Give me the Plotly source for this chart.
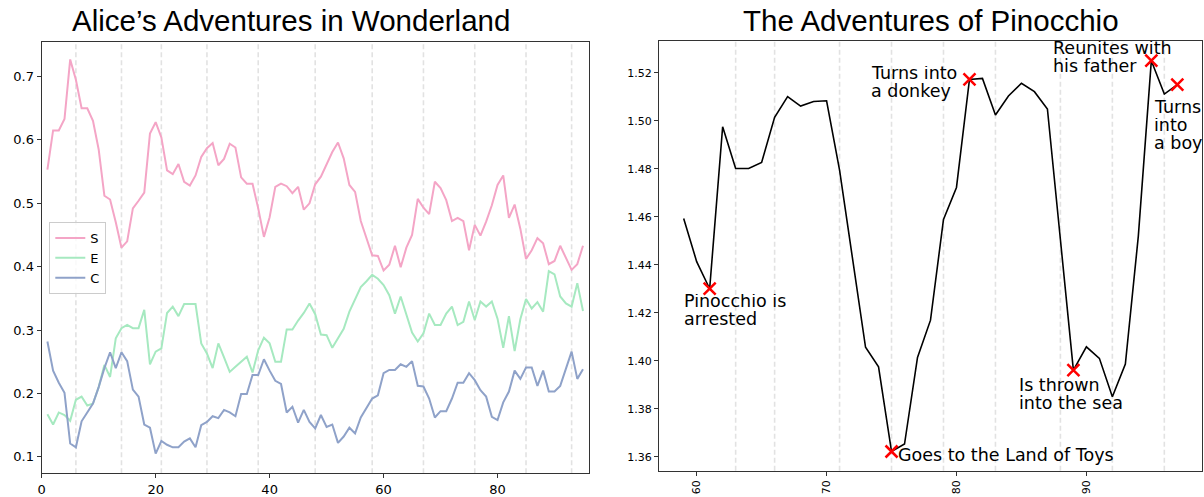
import plotly.graph_objects as go

# ---------------- data ----------------
alice_x = list(range(1, 96))
S = [0.553, 0.615, 0.615, 0.633, 0.727, 0.695, 0.650, 0.650, 0.630, 0.585,
     0.512, 0.506, 0.470, 0.430, 0.440, 0.492, 0.504, 0.517, 0.610, 0.628,
     0.604, 0.552, 0.546, 0.562, 0.534, 0.528, 0.544, 0.573, 0.587, 0.595,
     0.560, 0.570, 0.594, 0.588, 0.541, 0.531, 0.531, 0.492, 0.447, 0.478,
     0.526, 0.531, 0.527, 0.516, 0.526, 0.490, 0.500, 0.530, 0.542, 0.563,
     0.581, 0.596, 0.571, 0.529, 0.518, 0.472, 0.445, 0.418, 0.417, 0.394,
     0.403, 0.433, 0.399, 0.430, 0.450, 0.507, 0.493, 0.483, 0.534, 0.524,
     0.505, 0.472, 0.477, 0.472, 0.426, 0.466, 0.449, 0.471, 0.497, 0.529,
     0.544, 0.477, 0.498, 0.460, 0.412, 0.426, 0.445, 0.437, 0.404, 0.409,
     0.433, 0.414, 0.395, 0.404, 0.433]
E = [0.167, 0.151, 0.170, 0.166, 0.157, 0.190, 0.195, 0.181, 0.184, 0.210,
     0.245, 0.226, 0.287, 0.303, 0.308, 0.303, 0.303, 0.332, 0.246, 0.266,
     0.271, 0.327, 0.337, 0.322, 0.341, 0.341, 0.341, 0.279, 0.263, 0.240,
     0.279, 0.257, 0.234, 0.242, 0.250, 0.258, 0.233, 0.268, 0.288, 0.279,
     0.250, 0.250, 0.301, 0.301, 0.315, 0.327, 0.342, 0.325, 0.293, 0.292,
     0.272, 0.287, 0.302, 0.329, 0.350, 0.368, 0.377, 0.387, 0.381, 0.371,
     0.355, 0.326, 0.353, 0.326, 0.296, 0.282, 0.295, 0.326, 0.308, 0.308,
     0.326, 0.337, 0.308, 0.313, 0.345, 0.316, 0.345, 0.337, 0.345, 0.318,
     0.272, 0.322, 0.267, 0.317, 0.349, 0.334, 0.344, 0.329, 0.393, 0.388,
     0.353, 0.342, 0.337, 0.374, 0.330]
C = [0.282, 0.236, 0.217, 0.201, 0.121, 0.115, 0.156, 0.169, 0.184, 0.210,
     0.240, 0.265, 0.240, 0.265, 0.251, 0.206, 0.195, 0.151, 0.146, 0.105,
     0.125, 0.119, 0.115, 0.115, 0.124, 0.129, 0.115, 0.150, 0.155, 0.164,
     0.161, 0.174, 0.170, 0.164, 0.199, 0.199, 0.229, 0.229, 0.254, 0.236,
     0.220, 0.215, 0.170, 0.179, 0.154, 0.174, 0.155, 0.145, 0.166, 0.147,
     0.151, 0.122, 0.132, 0.146, 0.137, 0.162, 0.177, 0.192, 0.197, 0.232,
     0.237, 0.237, 0.246, 0.242, 0.251, 0.212, 0.211, 0.192, 0.162, 0.172,
     0.172, 0.192, 0.217, 0.217, 0.232, 0.221, 0.205, 0.195, 0.163, 0.158,
     0.186, 0.203, 0.236, 0.223, 0.241, 0.241, 0.212, 0.236, 0.203, 0.203,
     0.212, 0.239, 0.266, 0.223, 0.238]
alice_chapters = [6, 14, 21, 29, 38, 48, 58, 67, 76, 85, 93]
alice_xticks = [0, 20, 40, 60, 80]
alice_yticks = [0.1, 0.2, 0.3, 0.4, 0.5, 0.6, 0.7]

pin_x = list(range(59, 98))
pin_y = [1.4593, 1.4413, 1.4300, 1.4975, 1.4801, 1.4801, 1.4826, 1.5014, 1.5100, 1.5061,
         1.5080, 1.5083, 1.4794, 1.4420, 1.4056, 1.3975, 1.3622, 1.3653, 1.4014, 1.4169,
         1.4589, 1.4722, 1.5172, 1.5176, 1.5024, 1.5103, 1.5156, 1.5121, 1.5049, 1.4505,
         1.3961, 1.4058, 1.4010, 1.3850, 1.3986, 1.4520, 1.5250, 1.5111, 1.5150]
pin_chapters = [63, 66, 71, 75, 79, 83, 88, 92, 96]
pin_xticks = [60, 70, 80, 90]
pin_yticks = [1.36, 1.38, 1.40, 1.42, 1.44, 1.46, 1.48, 1.50, 1.52]
event_x = [61, 75, 81, 89, 95, 97]
event_labels = [["Pinocchio is", "arrested"],
                ["Goes to the Land of Toys"],
                ["Turns into", "a donkey"],
                ["Is thrown", "into the sea"],
                ["Reunites with", "his father"],
                ["Turns", "into", "a boy"]]
# label anchor (left edge x, first-line y) in data units
label_pos = [(59.0, 1.4247), (75.5, 1.3606), (73.4, 1.5197),
             (84.8, 1.3899), (87.4, 1.5300), (95.2, 1.5055)]

# ---------------- figure ----------------
W, H = 1204, 497
fig = go.Figure()
colors = {"S": "#f4a5c6", "E": "#a6e9c0", "C": "#8fa2c9"}
for name, ys in (("S", S), ("E", E), ("C", C)):
    fig.add_trace(go.Scatter(x=alice_x, y=ys, mode="lines", name=name,
                             line=dict(color=colors[name], width=2),
                             xaxis="x", yaxis="y"))

fig.add_trace(go.Scatter(x=pin_x, y=pin_y, mode="lines", showlegend=False,
                         line=dict(color="black", width=1.6),
                         xaxis="x2", yaxis="y2"))
ev_y = [pin_y[pin_x.index(v)] for v in event_x]
fig.add_trace(go.Scatter(x=event_x, y=ev_y, mode="markers", showlegend=False,
                         marker=dict(symbol="x-thin", size=12,
                                     line=dict(color="red", width=2.5)),
                         xaxis="x2", yaxis="y2"))

shapes = []
for c in alice_chapters:
    shapes.append(dict(type="line", xref="x", yref="y domain", x0=c, x1=c, y0=0, y1=1,
                       line=dict(color="#e2e2e2", width=1.6, dash="5px,3px"), layer="below"))
for c in pin_chapters:
    shapes.append(dict(type="line", xref="x2", yref="y2 domain", x0=c, x1=c, y0=0, y1=1,
                       line=dict(color="#e2e2e2", width=1.6, dash="5px,3px"), layer="below"))

annotations = []
LINE = 17.7
for (lx, ly), lines in zip(label_pos, event_labels):
    n = len(lines)
    for i, t in enumerate(lines):
        ann = dict(x=lx, y=ly, xref="x2", yref="y2", text=t, showarrow=False,
                   xanchor="left", yanchor="middle", yshift=-LINE * i,
                   borderpad=0, borderwidth=0,
                   font=dict(family="DejaVu Sans", size=17.5, color="black"))
        if i < n - 1:
            ann["height"] = 14.5
        annotations.append(ann)

title_font = dict(family="Liberation Sans", size=29.5, color="black")
annotations.append(dict(text="Alice’s Adventures in Wonderland", x=291 / W,
                        y=1 - 21 / H, xref="paper", yref="paper", showarrow=False,
                        xanchor="center", yanchor="middle", font=title_font))
annotations.append(dict(text="The Adventures of Pinocchio", x=931 / W,
                        y=1 - 21 / H, xref="paper", yref="paper", showarrow=False,
                        xanchor="center", yanchor="middle", font=title_font))

axis_common = dict(showline=True, mirror=True, linecolor="#333333", linewidth=1.3,
                   ticks="outside", ticklen=4, tickwidth=1.2, tickcolor="#333333",
                   showgrid=False, zeroline=False, automargin=False)

fig.update_layout(
    width=W, height=H, margin=dict(l=0, r=0, t=0, b=0),
    paper_bgcolor="white", plot_bgcolor="white",
    font=dict(family="DejaVu Sans", size=13, color="black"),
    shapes=shapes, annotations=annotations,
    xaxis=dict(domain=[41.7 / W, 588.7 / W], range=[0, 96], tickvals=alice_xticks,
               anchor="y", tickfont=dict(size=13), **axis_common),
    yaxis=dict(domain=[1 - 473.3 / H, 1 - 41.7 / H], range=[0.074, 0.755],
               tickvals=alice_yticks, tickformat=".1f", anchor="x",
               tickfont=dict(size=13), **axis_common),
    xaxis2=dict(domain=[659 / W, 1202 / W], range=[57.1, 98.9], tickvals=pin_xticks,
                tickangle=-90, anchor="y2", tickfont=dict(size=11), **axis_common),
    yaxis2=dict(domain=[1 - 470.7 / H, 1 - 41 / H], range=[1.3542, 1.5332],
                tickvals=pin_yticks, tickformat=".2f", anchor="x2",
                tickfont=dict(size=11), **axis_common),
    legend=dict(x=49.3 / W, y=1 - 222 / H, xanchor="left", yanchor="top",
                bgcolor="rgba(255,255,255,0.8)", bordercolor="#cccccc", borderwidth=1,
                font=dict(family="DejaVu Sans", size=13)),
)

fig.write_html("out.html", config={"displayModeBar": False},
               post_script="document.body.style.margin='0';document.body.style.overflow='hidden';")
